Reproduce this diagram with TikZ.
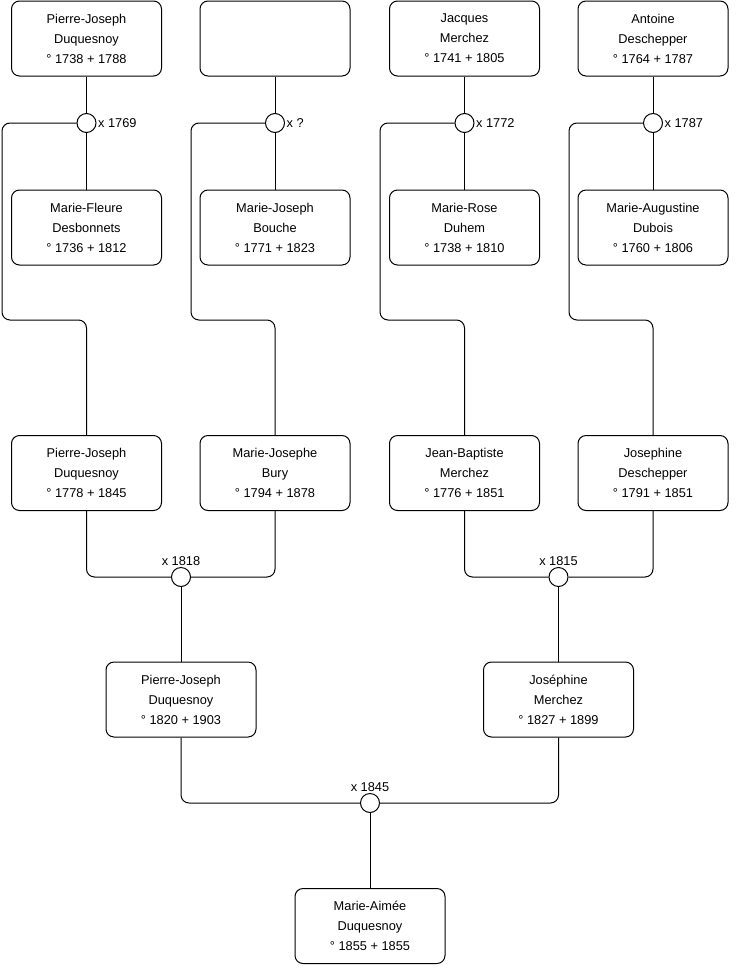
\documentclass[tikz,border=0pt]{standalone}
\usepackage{fontspec}
\setmainfont{Liberation Sans}
\usepackage{tikz}

\begin{document}
\begin{tikzpicture}[
    x=0.75pt, y=-0.75pt,
    person/.style={draw, rounded corners=6pt, minimum width=112.5pt, minimum height=56.25pt, align=center, font=\fontsize{9.6}{15}\selectfont, line width=0.75pt},
    wed/.style={draw, circle, fill=white, minimum size=14.25pt, inner sep=0pt, line width=0.75pt, label distance=2pt},
    link/.style={draw, line width=0.75pt, rounded corners=6pt},
    every label/.style={font=\fontsize{9.6}{11}\selectfont, inner sep=1pt}
]
\useasboundingbox (0,0) rectangle (740,975);

% generation 1
\node[person] (pj1738) at (86.5,38.5) {Pierre-Joseph\\Duquesnoy\\° 1738 + 1788};
\node[person] (unknown) at (275,38.5) {};
\node[person] (jm1741) at (464.5,38.5) {Jacques\\Merchez\\° 1741 + 1805};
\node[person] (ad1764) at (653,38.5) {Antoine\\Deschepper\\° 1764 + 1787};

\node[wed, label=right:x 1769] (w1769) at (86.5,123) {};
\node[wed, label=right:x ?] (w1) at (275,123) {};
\node[wed, label=right:x 1772] (w1772) at (464.5,123) {};
\node[wed, label=right:x 1787] (w1787) at (653,123) {};

\node[person] (mf1736) at (86.5,227.5) {Marie-Fleure\\Desbonnets\\° 1736 + 1812};
\node[person] (mj1771) at (275,227.5) {Marie-Joseph\\Bouche\\° 1771 + 1823};
\node[person] (mr1738) at (464.5,227.5) {Marie-Rose\\Duhem\\° 1738 + 1810};
\node[person] (ma1760) at (653,227.5) {Marie-Augustine\\Dubois\\° 1760 + 1806};

% generation 2
\node[person] (pj1778) at (86.5,473) {Pierre-Joseph\\Duquesnoy\\° 1778 + 1845};
\node[person] (mj1794) at (275,473) {Marie-Josephe\\Bury\\° 1794 + 1878};
\node[person] (jb1776) at (464.5,473) {Jean-Baptiste\\Merchez\\° 1776 + 1851};
\node[person] (jd1791) at (653,473) {Josephine\\Deschepper\\° 1791 + 1851};

\node[wed, label=above:x 1818] (w1818) at (181,577) {};
\node[wed, label=above:x 1815] (w1815) at (558.5,577) {};

% generation 3
\node[person] (pj1820) at (181,699.5) {Pierre-Joseph\\Duquesnoy\\° 1820 + 1903};
\node[person] (jm1827) at (558.5,699.5) {Joséphine\\Merchez\\° 1827 + 1899};

\node[wed, label=above:x 1845] (w1845) at (370,803) {};

\node[person] (ma1855) at (370,926) {Marie-Aimée\\Duquesnoy\\° 1855 + 1855};

% couples
\foreach \h/\w/\f in {pj1738/w1769/mf1736, unknown/w1/mj1771, jm1741/w1772/mr1738, ad1764/w1787/ma1760} {
  \draw[link] (\h) -- (\w);
  \draw[link] (\w) -- (\f);
}

% children of the first couples
\draw[link] (w1769.west) -| (2,320) -| (pj1778.north);
\draw[link] (w1.west) -| (191,320) -| (mj1794.north);
\draw[link] (w1772.west) -| (380,320) -| (jb1776.north);
\draw[link] (w1787.west) -| (569,320) -| (jd1791.north);

% second generation couples
\draw[link] (pj1778.south) |- (w1818.west);
\draw[link] (mj1794.south) |- (w1818.east);
\draw[link] (w1818) -- (pj1820);
\draw[link] (jb1776.south) |- (w1815.west);
\draw[link] (jd1791.south) |- (w1815.east);
\draw[link] (w1815) -- (jm1827);

% last couple
\draw[link] (pj1820.south) |- (w1845.west);
\draw[link] (jm1827.south) |- (w1845.east);
\draw[link] (w1845) -- (ma1855);
\end{tikzpicture}
\end{document}
